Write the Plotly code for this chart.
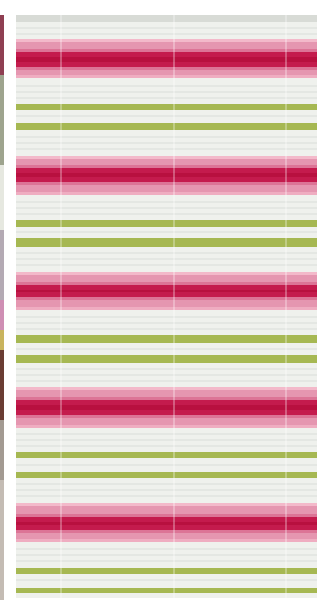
import plotly.graph_objects as go

# Stripe data (vertical positions along the blind, in pixel-like units)
pink_start = [39, 156, 272, 387, 503]
dark_start = [52, 168, 285, 400, 517]
dark_end = [67, 182, 297, 415, 530]
pink_end = [78, 195, 310, 428, 542]
green_start = [104, 123, 220, 238, 335, 355, 452, 472, 568, 588]
green_end = [110, 130, 227, 247, 343, 363, 458, 478, 574, 593]
cord_x = [61, 174, 286]
edge_start = [15, 75, 165, 230, 300, 330, 350, 420, 480]
edge_end = [75, 165, 230, 300, 330, 350, 420, 480, 600]
edge_colors = ["#8f3f52", "#9ea48e", "#e6e8e0", "#b4aab4", "#cf8fb4", "#c9b45e", "#6b3d33", "#a39a92", "#c4bcb4"]

LEFT, RIGHT, TOP, BOTTOM = 16, 317, 15, 598

fig = go.Figure()

def hbars(starts, ends, color, x0=LEFT, x1=RIGHT, name=""):
    fig.add_trace(go.Bar(
        orientation="h",
        y=[(s + e) / 2 for s, e in zip(starts, ends)],
        width=[e - s for s, e in zip(starts, ends)],
        base=[x0] * len(starts),
        x=[x1 - x0] * len(starts),
        marker=dict(color=color, line=dict(width=0)),
        showlegend=False, hoverinfo="skip", name=name,
    ))

# blind background
hbars([TOP], [BOTTOM], "#eff1ed")
hbars([TOP], [22], "#d8dbd6")
# faint slat lines
slats = [28, 34, 86, 92, 98, 116, 137, 143, 149, 202, 208, 214, 232, 253, 259, 265,
         317, 323, 329, 349, 369, 375, 381, 434, 440, 446, 465, 484, 490, 496,
         549, 555, 561, 580]
hbars([s - 0.5 for s in slats], [s + 0.5 for s in slats], "#e4e7e3")
# pink bands
hbars(pink_start, pink_end, "#e596b0")
hbars([s for s in pink_start], [s + 3 for s in pink_start], "#f3b9ca")
hbars([e - 3 for e in pink_end], pink_end, "#efadc1")
hbars([d - 3 for d in dark_start], dark_start, "#dc7496")
hbars(dark_end, [d + 3 for d in dark_end], "#dc7496")
hbars(dark_start, dark_end, "#c41b4d")
hbars([d + 5 for d in dark_start], [d - 5 for d in dark_end], "#b8103f")
# green stripes
hbars(green_start, green_end, "#a6b852")
# photo edge on the left
for s, e, c in zip(edge_start, edge_end, edge_colors):
    hbars([s], [e], c, x0=0, x1=4)

# cords
for cx in cord_x:
    fig.add_trace(go.Scatter(
        x=[cx, cx], y=[TOP, BOTTOM], mode="lines",
        line=dict(color="rgba(255,255,255,0.4)", width=1.5),
        showlegend=False, hoverinfo="skip",
    ))

fig.update_layout(
    width=317, height=604,
    margin=dict(l=0, r=0, t=0, b=0),
    paper_bgcolor="white", plot_bgcolor="white",
    barmode="overlay", bargap=0,
    xaxis=dict(range=[0, 317], visible=False, fixedrange=True),
    yaxis=dict(range=[604, 0], visible=False, fixedrange=True),
)
fig.write_html("out.html", config={"displayModeBar": False},
               post_script="document.body.style.margin='0';document.body.style.overflow='hidden';")
